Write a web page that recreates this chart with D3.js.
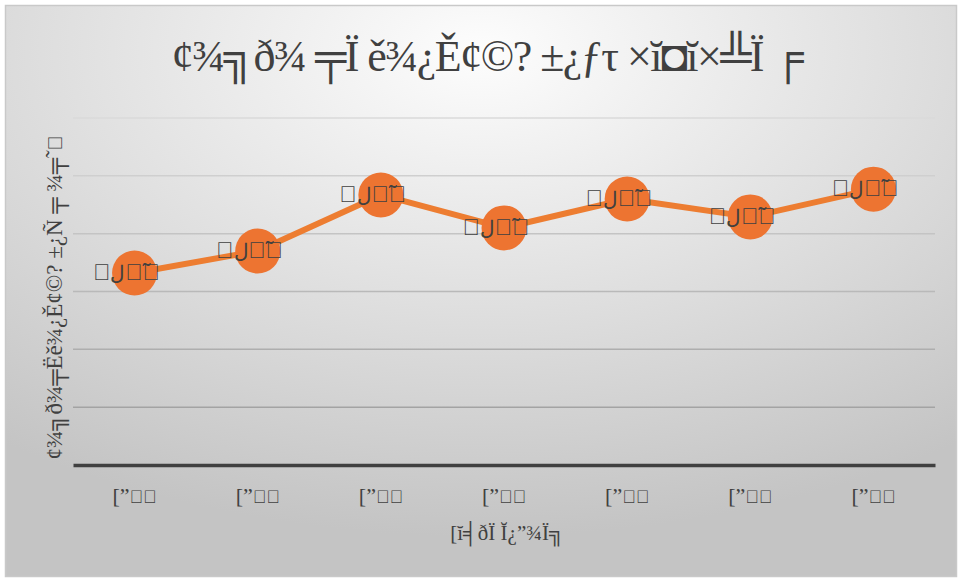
<!DOCTYPE html>
<html>
<head>
<meta charset="utf-8">
<script src="https://cdn.jsdelivr.net/npm/d3@7"></script>
<style>
  html, body { margin: 0; padding: 0; background: #fff; }
  svg text { font-family: "Liberation Serif", "DejaVu Serif", serif; fill: #404040; }
</style>
</head>
<body>
<svg id="chart" width="959" height="579"></svg>
<script>
// Chart data (text kept exactly as encoded in the source workbook)
const BOX = "\uFFFF";
const categories = ["[\u201d" + BOX + BOX, "[\u201d" + BOX + BOX + " ", "[\u201d" + BOX + BOX + "  ", "[\u201d" + BOX + BOX + "   ", "[\u201d" + BOX + BOX + "    ", "[\u201d" + BOX + BOX + "     ", "[\u201d" + BOX + BOX + "      "];
const values = [3.32, 3.70, 4.67, 4.10, 4.60, 4.29, 4.77];
const pointLabels = values.map(() => BOX + "\u0644" + BOX + "\u0303" + BOX);
const yTicks = [0, 1, 2, 3, 4, 5, 6];
const titleText = "\u00A2\u00BE\u2557\u00F0\u00BE \u2564\u00CF \u011B\u00BE\u00BF\u011A\u00A2\u00A9? \u00B1\u00BF\u0192\u03C4 \u00D7\u012D\u25D8\u012D\u00D7\u2569\u00CF \u2552";
const yTitleText = "\u00A2\u00BE\u2557\u00F0\u00BE\u2564\u00CB\u011B\u00BE\u00BF\u011A\u00A2\u00A9? \u00B1\u00BF\u00D1 \u2564 \u00BE\u2564\u02DC" + BOX;
const xTitleText = "[\u012D\u2561\u00F0\u00CF \u012C\u00BF\u201D\u00BE\u00CF\u2557";

const W = 959, H = 579;
const margin = { left: 73, right: 24, top: 118, bottom: 114 };
const svg = d3.select("#chart");

// Writes a string into a text node; undecodable characters are set in a
// face whose missing-glyph box is visible (a following combining mark stays with it).
function fillText(sel, str, boxSize) {
  sel.text(null)
    .style("unicode-bidi", "bidi-override").style("direction", "ltr");
  const runs = [];
  const chars = Array.from(str.trimEnd());
  chars.forEach((ch, k) => {
    const isBox = ch === BOX || (ch === "\u0303" && chars[k - 1] === BOX);
    if (runs.length && runs[runs.length - 1].box === isBox) runs[runs.length - 1].s += ch;
    else runs.push({ box: isBox, s: ch });
  });
  runs.forEach(r => {
    const t = sel.append("tspan").text(r.s);
    if (r.box) {
      t.style("font-family", "'Liberation Sans'");
      if (boxSize) t.attr("font-size", boxSize);
    }
  });
}

// Background with soft radial shading and thin frame
const defs = svg.append("defs");
const rg = defs.append("radialGradient").attr("id", "bg")
  .attr("cx", "50%").attr("cy", "8%").attr("r", "85%");
rg.append("stop").attr("offset", "0%").attr("stop-color", "#fdfdfd");
rg.append("stop").attr("offset", "100%").attr("stop-color", "#c4c4c4");

svg.append("rect").attr("width", W).attr("height", H).attr("fill", "#fff");
svg.append("rect").attr("x", 5.5).attr("y", 5.5).attr("width", W - 8).attr("height", H - 8)
  .attr("fill", "url(#bg)").attr("stroke", "#c9c9c9").attr("stroke-width", 1.5);

const x = d3.scaleBand().domain(categories).range([margin.left, W - margin.right]);
const y = d3.scaleLinear().domain([0, 6]).range([H - margin.bottom, margin.top]);
const cx = (d, i) => x(categories[i]) + x.bandwidth() / 2;

// Horizontal gridlines, darker toward the baseline
const gridColor = d3.scaleLinear().domain([6, 1]).range(["#dadada", "#a3a3a3"]);
svg.append("g").selectAll("line").data(yTicks.filter(d => d > 0)).join("line")
  .attr("x1", margin.left).attr("x2", W - margin.right)
  .attr("y1", d => y(d)).attr("y2", d => y(d))
  .attr("stroke", d => gridColor(d)).attr("stroke-width", 1.5);

// Category axis
const xAxis = svg.append("g").attr("transform", `translate(0,${y(0)})`)
  .call(d3.axisBottom(x).tickSize(0).tickPadding(22));
xAxis.select(".domain").attr("stroke", "#404040").attr("stroke-width", 3.5);
xAxis.selectAll("text").attr("font-size", 22).attr("fill", "#595959")
  .style("font-family", "'Liberation Serif', serif")
  .each(function (d) { fillText(d3.select(this), d, 18); });

// Series line and markers
const line = d3.line().x(cx).y(d => y(d));
svg.append("path").datum(values).attr("d", line)
  .attr("fill", "none").attr("stroke", "#ed7d31").attr("stroke-width", 6)
  .attr("stroke-linejoin", "round");
svg.append("g").selectAll("circle").data(values).join("circle")
  .attr("cx", cx).attr("cy", d => y(d)).attr("r", 22.5).attr("fill", "#ed7431");

// Point labels
svg.append("g").selectAll("text").data(values).join("text")
  .attr("x", (d, i) => cx(d, i) - 8)
  .attr("y", d => y(d) + 7)
  .attr("text-anchor", "middle").attr("font-size", 20).attr("fill", "#262626")
  .each(function (d, i) { fillText(d3.select(this), pointLabels[i], 23); });

// Titles
svg.append("text").attr("x", 487).attr("y", 71).attr("text-anchor", "middle")
  .attr("font-size", 44).attr("letter-spacing", -1.5).attr("fill", "#404040").text(titleText);
const yTitle = svg.append("text")
  .attr("transform", `translate(62,${(margin.top + y(0)) / 2 + 6}) rotate(-90)`)
  .attr("text-anchor", "middle").attr("font-size", 23).attr("fill", "#595959");
fillText(yTitle, yTitleText, 20);
svg.append("text").attr("x", 507).attr("y", 540).attr("text-anchor", "middle")
  .attr("font-size", 21).attr("fill", "#595959").text(xTitleText);
</script>
</body>
</html>
